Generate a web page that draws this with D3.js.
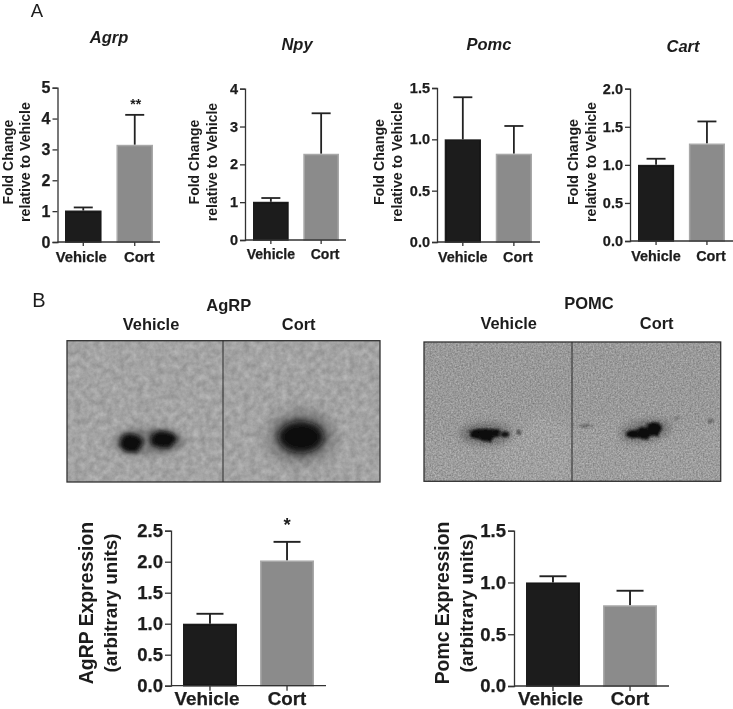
<!DOCTYPE html>
<html>
<head>
<meta charset="utf-8">
<script src="https://d3js.org/d3.v7.min.js"></script>
<style>
  html, body { margin: 0; padding: 0; background: #fff; }
  svg { display: block; }
  text { font-family: "Liberation Sans", Arial, sans-serif; fill: #1c1c1c; }
</style>
</head>
<body>
<div id="main"></div>
<script>
var width = 733;
var height = 709;

var groups = ['Vehicle', 'Cort'];

// bar height, top of the error bar
var agrpMeans = [1.02, 3.15];
var agrpTops = [1.12, 4.12];
var npyMeans = [1.01, 2.28];
var npyTops = [1.11, 3.35];
var pomcMeans = [1.0, 0.86];
var pomcTops = [1.41, 1.13];
var cartMeans = [1.0, 1.28];
var cartTops = [1.08, 1.57];
var agrpProteinMeans = [1.0, 2.02];
var agrpProteinTops = [1.16, 2.32];
var pomcProteinMeans = [1.0, 0.78];
var pomcProteinTops = [1.06, 0.92];

var ticksAgrp = [0, 1, 2, 3, 4, 5];
var ticksNpy = [0, 1, 2, 3, 4];
var ticksHalf = [0, 0.5, 1, 1.5];
var ticksCart = [0, 0.5, 1, 1.5, 2];
var ticksProtein = [0, 0.5, 1, 1.5, 2, 2.5];

var svg = d3.select('#main').append('svg')
  .attr('width', width)
  .attr('height', height)
  .attr('viewBox', [0, 0, width, height]);

var defs = svg.append('defs');

// the scan is a little soft
defs.append('filter').attr('id', 'scan')
  .attr('x', 0).attr('y', 0).attr('width', 1).attr('height', 1)
  .attr('filterUnits', 'userSpaceOnUse')
  .attr('width', width).attr('height', height)
  .append('feGaussianBlur').attr('stdDeviation', 0.35);
var root = svg.append('g').attr('filter', 'url(#scan)');

// grain for the two blots, coarse one for AgRP and fine one for POMC
function grain(id, freq, gain, base) {
  var f = defs.append('filter').attr('id', id)
    .attr('x', 0).attr('y', 0).attr('width', 1).attr('height', 1)
    .attr('color-interpolation-filters', 'sRGB');
  f.append('feTurbulence')
    .attr('type', 'fractalNoise')
    .attr('baseFrequency', freq)
    .attr('numOctaves', 4)
    .attr('seed', 4);
  f.append('feColorMatrix')
    .attr('type', 'matrix')
    .attr('values', [gain, 0, 0, 0, base - gain / 2,
                     gain, 0, 0, 0, base - gain / 2,
                     gain, 0, 0, 0, base - gain / 2,
                     0, 0, 0, 0, 1].join(' '));
}
grain('grainCoarse', 0.16, 0.2, 0.64);
grain('grainFine', 0.6, 0.32, 0.615);

function blur(id, dev, rough, freq) {
  var f = defs.append('filter').attr('id', id)
    .attr('x', '-60%').attr('y', '-60%').attr('width', '220%').attr('height', '220%');
  if (rough) {
    f.append('feTurbulence').attr('type', 'fractalNoise').attr('baseFrequency', freq)
      .attr('numOctaves', 2).attr('seed', 7).attr('result', 'n');
    f.append('feDisplacementMap').attr('in', 'SourceGraphic').attr('in2', 'n')
      .attr('scale', rough).attr('result', 'd');
    f.append('feGaussianBlur').attr('in', 'd').attr('stdDeviation', dev);
  } else {
    f.append('feGaussianBlur').attr('stdDeviation', dev);
  }
}
blur('soft1', 2, 6, 0.12);
blur('soft2', 3.5);
blur('halo', 7);
blur('rough', 0.9, 5, 0.2);
blur('faint', 5);
blur('thin', 0.9, 3, 0.2);

function barChart(o) {
  var g = root.append('g');
  var y = d3.scaleLinear().domain([0, o.max]).range([o.bottom, o.top]);
  var x = d3.scaleBand().domain(groups).range(o.bars).paddingInner(o.gap);
  var rows = groups.map((c, i) => ({ name: c, mean: o.means[i], top: o.tops[i] }));

  // error bars go under the bars
  var err = g.append('g').selectAll('g').data(rows).join('g')
    .attr('stroke', '#222').attr('stroke-width', o.errW);
  err.append('line')
    .attr('x1', d => x(d.name) + x.bandwidth() / 2)
    .attr('x2', d => x(d.name) + x.bandwidth() / 2)
    .attr('y1', d => y(d.mean))
    .attr('y2', d => y(d.top));
  err.append('line')
    .attr('x1', d => x(d.name) + x.bandwidth() / 2 - o.cap / 2)
    .attr('x2', d => x(d.name) + x.bandwidth() / 2 + o.cap / 2)
    .attr('y1', d => y(d.top))
    .attr('y2', d => y(d.top));

  g.append('g').selectAll('rect').data(rows).join('rect')
    .attr('x', d => x(d.name) + 0.75)
    .attr('width', x.bandwidth() - 1.5)
    .attr('y', d => y(d.mean) + 0.75)
    .attr('height', d => y(0) - y(d.mean) - 0.75)
    .attr('fill', (d, i) => i === 0 ? '#1a1a1a' : '#8b8b8b')
    .attr('stroke', (d, i) => i === 0 ? '#1a1a1a' : '#a8a8a8')
    .attr('stroke-width', 1.5);

  var yAxis = g.append('g')
    .attr('transform', `translate(${o.axisX},0)`)
    .call(d3.axisLeft(y).tickValues(o.ticks).tickSizeOuter(0).tickSize(o.tickLen)
      .tickPadding(o.tickPad).tickFormat(d3.format(o.fmt)));
  yAxis.selectAll('text')
    .attr('font-size', o.tickFont)
    .attr('font-weight', 'bold')
    .attr('font-family', null)
    .attr('stroke', '#1c1c1c')
    .attr('stroke-width', 0.25);
  yAxis.selectAll('line').attr('stroke', '#333').attr('stroke-width', 1.3);
  yAxis.select('.domain').attr('stroke', '#333').attr('stroke-width', 1.3);

  var xAxis = g.append('g')
    .attr('transform', `translate(0,${o.bottom})`)
    .call(d3.axisBottom(x).tickSize(o.tickLen - 1).tickSizeOuter(0));
  xAxis.select('.domain').remove();
  xAxis.append('line')
    .attr('x1', o.axisX).attr('x2', o.xEnd)
    .attr('stroke', '#333').attr('stroke-width', 1.3);
  xAxis.selectAll('.tick line').attr('stroke', '#333').attr('stroke-width', 1.3);
  xAxis.selectAll('.tick text')
    .attr('font-size', o.labelFont)
    .attr('font-weight', 'bold')
    .attr('font-family', null)
    .attr('stroke', '#1c1c1c')
    .attr('stroke-width', 0.25)
    .attr('dx', (d, i) => o.labelShift[i])
    .attr('dy', null)
    .attr('y', o.labelY - o.bottom);

  o.yLabel.forEach((t, i) => {
    g.append('text')
      .attr('transform', `translate(${o.yLabelX[i]},${o.yLabelMid}) rotate(-90)`)
      .attr('text-anchor', 'middle')
      .attr('font-size', o.yLabelFont[i])
      .attr('font-weight', 'bold')
      .attr('fill', '#2a2a2a')
      .text(t);
  });

  if (o.title) {
    g.append('text')
      .attr('x', o.title[1]).attr('y', o.title[2])
      .attr('text-anchor', 'middle')
      .attr('font-size', 16.5)
      .attr('font-weight', 'bold')
      .attr('font-style', 'italic')
      .text(o.title[0]);
  }
  if (o.star) {
    g.append('text')
      .attr('x', x(groups[1]) + x.bandwidth() / 2 + o.star[1])
      .attr('y', o.star[2])
      .attr('text-anchor', 'middle')
      .attr('font-size', o.star[3])
      .attr('font-weight', 'bold')
      .text(o.star[0]);
  }
}

var smallLabel = ['Fold Change', 'relative to Vehicle'];
var proteinFont = [19.4, 18.8];

barChart({
  means: agrpMeans, tops: agrpTops, max: 5, ticks: ticksAgrp, fmt: 'd',
  axisX: 57.5, xEnd: 160, top: 87.7, bottom: 242, bars: [65, 153], gap: 0.29,
  cap: 19, errW: 1.8, tickLen: 5, tickPad: 2, tickFont: 16, labelFont: 14.8,
  labelShift: [-2, 4.5], labelY: 262, yLabel: smallLabel, yLabelX: [12.8, 29.5],
  yLabelMid: 162, yLabelFont: [14, 14.2],
  title: ['Agrp', 109, 43], star: ['**', 1, 109, 14]
});
barChart({
  means: npyMeans, tops: npyTops, max: 4, ticks: ticksNpy, fmt: 'd',
  axisX: 245, xEnd: 346, top: 88.7, bottom: 240, bars: [253, 339], gap: 0.29,
  cap: 19, errW: 1.8, tickLen: 5, tickPad: 2, tickFont: 14.5, labelFont: 14,
  labelShift: [0, 4], labelY: 259, yLabel: smallLabel, yLabelX: [199, 217],
  yLabelMid: 162, yLabelFont: [14, 14],
  title: ['Npy', 297, 50]
});
barChart({
  means: pomcMeans, tops: pomcTops, max: 1.5, ticks: ticksHalf, fmt: '.1f',
  axisX: 437, xEnd: 540, top: 88, bottom: 242, bars: [444.7, 532], gap: 0.29,
  cap: 19, errW: 1.8, tickLen: 5, tickPad: 2, tickFont: 14.5, labelFont: 14.4,
  labelShift: [0, 4], labelY: 262, yLabel: smallLabel, yLabelX: [384, 402],
  yLabelMid: 162, yLabelFont: [14.2, 14.2],
  title: ['Pomc', 489, 50]
});
barChart({
  means: cartMeans, tops: cartTops, max: 2, ticks: ticksCart, fmt: '.1f',
  axisX: 630, xEnd: 733, top: 88.7, bottom: 241, bars: [638, 725], gap: 0.29,
  cap: 19, errW: 1.8, tickLen: 5, tickPad: 2, tickFont: 14.5, labelFont: 14.4,
  labelShift: [0, 4], labelY: 261, yLabel: smallLabel, yLabelX: [578, 596],
  yLabelMid: 162, yLabelFont: [14.2, 14.2],
  title: ['Cart', 683, 52]
});
barChart({
  means: agrpProteinMeans, tops: agrpProteinTops, max: 2.5, ticks: ticksProtein, fmt: '.1f',
  axisX: 171, xEnd: 326, top: 530.7, bottom: 685.7, bars: [183, 314], gap: 0.3,
  cap: 27, errW: 1.9, tickLen: 6, tickPad: 2, tickFont: 18.5, labelFont: 18.8,
  labelShift: [-3, 0], labelY: 704.8, yLabel: ['AgRP Expression', '(arbitrary units)'],
  yLabelX: [93, 117], yLabelMid: 603, yLabelFont: proteinFont,
  star: ['*', 0, 531, 18.5]
});
barChart({
  means: pomcProteinMeans, tops: pomcProteinTops, max: 1.5, ticks: ticksHalf, fmt: '.1f',
  axisX: 514, xEnd: 669, top: 530.7, bottom: 686, bars: [526, 657], gap: 0.3,
  cap: 27, errW: 1.9, tickLen: 6, tickPad: 2, tickFont: 18.5, labelFont: 18.8,
  labelShift: [-2.5, 0], labelY: 704.8, yLabel: ['Pomc Expression', '(arbitrary units)'],
  yLabelX: [449, 473], yLabelMid: 603, yLabelFont: proteinFont
});

// blots
function blot(o) {
  var g = root.append('g');
  var clipId = 'clip' + o.x;
  defs.append('clipPath').attr('id', clipId).append('rect')
    .attr('x', o.x).attr('y', o.y).attr('width', o.w).attr('height', o.h);
  var inner = g.append('g').attr('clip-path', `url(#${clipId})`);
  inner.append('rect')
    .attr('x', o.x).attr('y', o.y).attr('width', o.w).attr('height', o.h)
    .attr('filter', `url(#${o.grain})`);
  inner.selectAll('.shade').data(o.shades || []).join('path')
    .attr('class', 'shade')
    .attr('d', d => d.d)
    .attr('fill', d => d.fill)
    .attr('fill-opacity', d => d.a)
    .attr('filter', 'url(#faint)');
  inner.selectAll('.spot').data(o.spots).join('ellipse')
    .attr('class', 'spot')
    .attr('transform', d => `translate(${d.x},${d.y}) rotate(${d.t || 0})`)
    .attr('rx', d => d.rx)
    .attr('ry', d => d.ry)
    .attr('fill', '#0c0c0c')
    .attr('fill-opacity', d => d.a)
    .attr('filter', d => `url(#${d.f})`);
  g.append('rect')
    .attr('x', o.x).attr('y', o.y).attr('width', o.w).attr('height', o.h)
    .attr('fill', 'none').attr('stroke', '#333').attr('stroke-width', 1.3);
  g.append('line')
    .attr('x1', o.split).attr('x2', o.split).attr('y1', o.y).attr('y2', o.y + o.h)
    .attr('stroke', '#2a2a2a').attr('stroke-width', 1);
}

blot({
  x: 67, y: 340.7, w: 313, h: 141.3, split: 223, grain: 'grainCoarse',
  spots: [
    { x: 149, y: 441, rx: 36, ry: 13, a: 0.3, f: 'soft2' },
    { x: 131, y: 443, rx: 12, ry: 10, a: 1, f: 'soft1' },
    { x: 163, y: 439.5, rx: 14, ry: 9, a: 1, f: 'soft1' },
    { x: 301, y: 437, rx: 34, ry: 26, a: 0.3, f: 'halo' },
    { x: 301, y: 437, rx: 23, ry: 16, a: 1, f: 'soft2' }
  ]
});
blot({
  x: 424, y: 342, w: 296.7, h: 139.3, split: 572, grain: 'grainFine',
  shades: [
    { d: 'M424,342H721V420L655,436L600,418L572,425L535,412L510,440L450,442L424,430Z', fill: '#333', a: 0.05 },
    { d: 'M500,445L540,412L572,428L572,482H500Z', fill: '#fff', a: 0.03 }
  ],
  spots: [
    { x: 486, y: 434, rx: 26, ry: 11, a: 0.28, f: 'soft2' },
    { x: 478, y: 434, rx: 9, ry: 5, a: 1, f: 'rough' },
    { x: 487, y: 435, rx: 9, ry: 7, a: 1, f: 'rough' },
    { x: 496, y: 433, rx: 5, ry: 4, a: 1, f: 'rough' },
    { x: 505, y: 434.5, rx: 4.5, ry: 2.8, a: 0.95, f: 'thin' },
    { x: 519, y: 432.5, rx: 2.4, ry: 2.6, a: 0.6, f: 'thin' },
    { x: 586, y: 426, rx: 8, ry: 1.2, a: 0.4, f: 'thin' },
    { x: 645, y: 431, rx: 26, ry: 11, a: 0.25, f: 'soft2', t: -10 },
    { x: 634, y: 434, rx: 9, ry: 4, a: 1, f: 'rough' },
    { x: 644, y: 433, rx: 8, ry: 6.5, a: 1, f: 'rough' },
    { x: 654, y: 429, rx: 8, ry: 7.5, a: 1, f: 'rough' },
    { x: 711, y: 421, rx: 3.5, ry: 1.4, a: 0.4, f: 'thin' },
    { x: 677, y: 418, rx: 4, ry: 1, a: 0.25, f: 'thin', t: -20 }
  ]
});

// text around the blots and panel letters
var notes = [
  { t: 'A', x: 37, y: 16.9, size: 18.5, weight: 'normal' },
  { t: 'B', x: 39, y: 306.7, size: 20, weight: 'normal' },
  { t: 'AgRP', x: 228.7, y: 311, size: 16.5, weight: 'bold' },
  { t: 'Vehicle', x: 151, y: 330, size: 16.4, weight: 'bold' },
  { t: 'Cort', x: 298.7, y: 330, size: 16.4, weight: 'bold' },
  { t: 'POMC', x: 589, y: 309, size: 16.5, weight: 'bold' },
  { t: 'Vehicle', x: 508.7, y: 329, size: 16.4, weight: 'bold' },
  { t: 'Cort', x: 656.7, y: 329, size: 16.4, weight: 'bold' }
];
root.append('g').selectAll('text').data(notes).join('text')
  .attr('x', d => d.x)
  .attr('y', d => d.y)
  .attr('text-anchor', 'middle')
  .attr('font-size', d => d.size)
  .attr('font-weight', d => d.weight)
  .text(d => d.t);
</script>
</body>
</html>
